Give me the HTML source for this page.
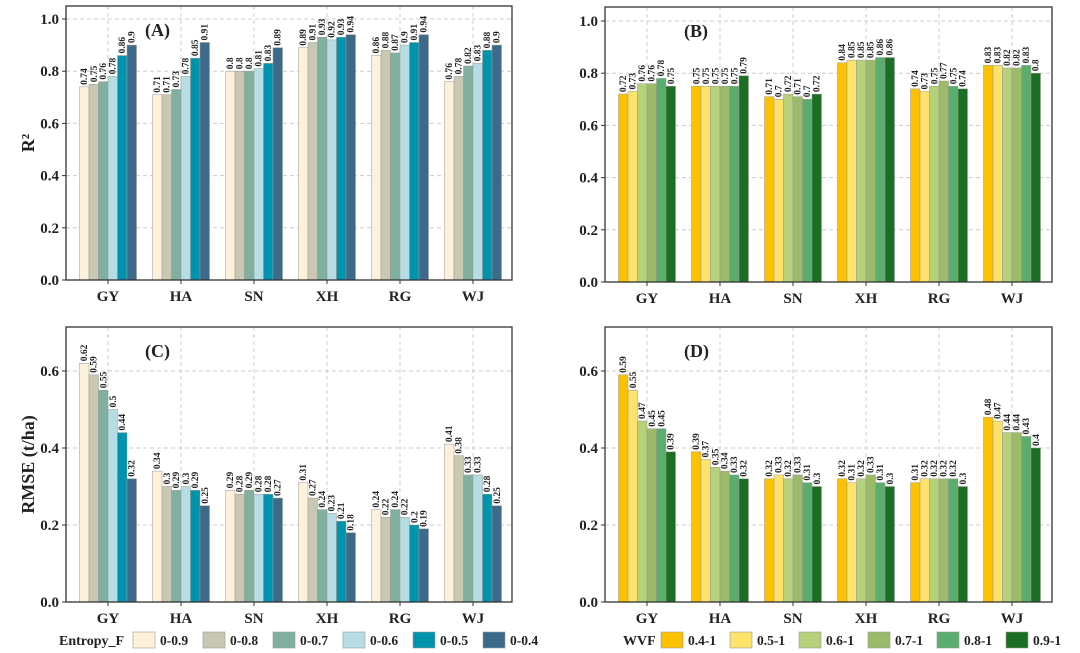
<!DOCTYPE html>
<html><head><meta charset="utf-8"><style>
html,body{margin:0;padding:0;background:#fff;width:1080px;height:653px;overflow:hidden}
svg{display:block}
text{font-family:"Liberation Serif",serif;font-weight:bold;fill:#222}
</style></head><body>
<svg id="chart" width="1080" height="653" viewBox="0 0 1080 653"></svg>
<script>
const categories=["GY","HA","SN","XH","RG","WJ"];
const entropySeries=["0-0.9","0-0.8","0-0.7","0-0.6","0-0.5","0-0.4"];
const wvfSeries=["0.4-1","0.5-1","0.6-1","0.7-1","0.8-1","0.9-1"];
const valuesA=[[.74,.75,.76,.78,.86,.9],[.71,.71,.73,.78,.85,.91],[.8,.8,.8,.81,.83,.89],[.89,.91,.93,.92,.93,.94],[.86,.88,.87,.9,.91,.94],[.76,.78,.82,.83,.88,.9]];
const valuesB=[[.72,.73,.76,.76,.78,.75],[.75,.75,.75,.75,.75,.79],[.71,.7,.72,.71,.7,.72],[.84,.85,.85,.85,.86,.86],[.74,.73,.75,.77,.75,.74],[.83,.83,.82,.82,.83,.8]];
const valuesC=[[.62,.59,.55,.5,.44,.32],[.34,.3,.29,.3,.29,.25],[.29,.28,.29,.28,.28,.27],[.31,.27,.24,.23,.21,.18],[.24,.22,.24,.22,.2,.19],[.41,.38,.33,.33,.28,.25]];
const valuesD=[[.59,.55,.47,.45,.45,.39],[.39,.37,.35,.34,.33,.32],[.32,.33,.32,.33,.31,.3],[.32,.31,.32,.33,.31,.3],[.31,.32,.32,.32,.32,.3],[.48,.47,.44,.44,.43,.4]];
const ticksR2=[0,0.2,0.4,0.6,0.8,1.0];
const ticksRMSE=[0,0.2,0.4,0.6];
const entropyColors=["#fdf1dc","#c9c9b3","#7fb0a0","#b5dde3","#0093ad","#3d6a8a"];
const wvfColors=["#fcc200","#fde26b","#b5d17a","#9bbb6a","#5aad6c","#1b6e23"];

const NS="http://www.w3.org/2000/svg";
const svg=document.getElementById('chart');
function mk(tag,attrs,parent){const e=document.createElementNS(NS,tag);for(const k in attrs)e.setAttribute(k,attrs[k]);(parent||svg).appendChild(e);return e;}

function panel(o){
  const g=mk('g',{});
  
  
  const y=v=>o.y0-(v/o.vmax)*(o.y0-o.yTop);
  const step=73, off=42, bw=9.5;
  const cx=i=>o.x0+off+i*step;
  o.ticks.forEach(t=>{if(t>0){const l=mk('line',{x1:o.x0,x2:o.x1,y1:y(t),y2:y(t),stroke:'#ccc','stroke-dasharray':'4,3','stroke-width':1},g);
    }});
  categories.forEach((c,i)=>{const l=mk('line',{x1:cx(i),x2:cx(i),y1:o.top,y2:o.y0,stroke:'#ccc','stroke-dasharray':'4,3','stroke-width':1},g);
    });
  o.data.forEach((row,i)=>{row.forEach((v,j)=>{
    const bx=cx(i)-3*bw+j*bw;
    const r=mk('rect',{x:bx,y:y(v),width:bw,height:o.y0-y(v),fill:o.colors[j],stroke:'#9a9a90','stroke-width':0.5},g);
    
    
    const tx=bx+bw/2+3, ty=y(v)-2;
    const t=mk('text',{x:tx,y:ty,transform:`rotate(-90 ${tx} ${ty})`,'font-size':9.5},g);
    t.textContent=String(v);
    
    
  });});
  const f=mk('rect',{x:o.x0,y:o.top,width:o.x1-o.x0,height:o.y0-o.top,fill:'none',stroke:'#333','stroke-width':1.3},g);
  
  o.ticks.forEach(t=>{mk('line',{x1:o.x0-4,x2:o.x0,y1:y(t),y2:y(t),stroke:'#333'},g);
    const tl=mk('text',{x:o.x0-7,y:y(t)+5,'text-anchor':'end','font-size':15},g);
    tl.textContent=t.toFixed(1);
    });
  categories.forEach((c,i)=>{mk('line',{x1:cx(i),x2:cx(i),y1:o.y0,y2:o.y0+4,stroke:'#333'},g);
    const tl=mk('text',{x:cx(i),y:o.y0+21,'text-anchor':'middle','font-size':15},g);
    tl.textContent=c;
    });
  const pl=mk('text',{x:o.x0+79,y:o.top+30,'font-size':18},g);
  pl.textContent='('+o.id+')';
  
  if(o.ylabel){const yl=mk('text',{x:0,y:0,transform:`translate(${o.ylx} ${(o.top+o.y0)/2}) rotate(-90)`,'text-anchor':'middle','font-size':18},g);
    yl.textContent=o.ylabel;}
}
panel({id:'A',x0:66,x1:512,top:6,y0:280,yTop:19,vmax:1.0,ticks:ticksR2,data:valuesA,colors:entropyColors,ylabel:'R²',ylx:34});
panel({id:'B',x0:605,x1:1052,top:7,y0:282,yTop:21,vmax:1.0,ticks:ticksR2,data:valuesB,colors:wvfColors});
panel({id:'C',x0:66,x1:512,top:327,y0:602,yTop:371,vmax:0.6,ticks:ticksRMSE,data:valuesC,colors:entropyColors,ylabel:'RMSE (t/ha)',ylx:34});
panel({id:'D',x0:605,x1:1052,top:327,y0:602,yTop:371,vmax:0.6,ticks:ticksRMSE,data:valuesD,colors:wvfColors});

function legend(title,tx,names,colors,boxX,step,nm){
  const g=mk('g',{});
  
  
  const t=mk('text',{x:tx,y:645,'font-size':14},g);t.textContent=title;
  names.forEach((n,i)=>{
    const bx=boxX+i*step;
    const r=mk('rect',{x:bx,y:632,width:22,height:16,fill:colors[i],stroke:'#999','stroke-width':0.6},g);
    
    const l=mk('text',{x:bx+27,y:645,'font-size':13.5},g);l.textContent=n;
    
  });
}
legend('Entropy_F',59,entropySeries,entropyColors,133,70,'legend-entropy');
legend('WVF',623,wvfSeries,wvfColors,661,69,'legend-wvf');
</script>
</body></html>
